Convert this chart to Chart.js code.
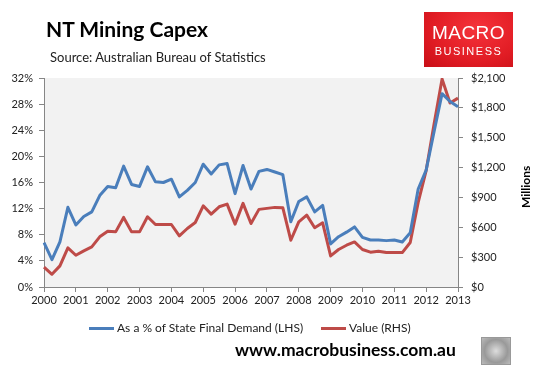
<!DOCTYPE html>
<html>
<head>
<meta charset="utf-8">
<script src="https://cdn.jsdelivr.net/npm/chart.js@4"></script>
<style>
  body { margin: 0; background: #fff; font-family: Lato, "Open Sans", sans-serif; }
  #wrap { position: relative; width: 546px; height: 370px; overflow: hidden; }
  #chart { position: absolute; left: 0; top: 0; }
  .abs { position: absolute; white-space: nowrap; }
  #title { left: 46px; top: 16px; font-size: 21px; font-weight: bold; color: #000; }
  #source { left: 50px; top: 49px; font-size: 13px; color: #222; }
  #logo { left: 424px; top: 12px; width: 89px; height: 55px;
    background: radial-gradient(ellipse at 60% 30%, #f5333a 0%, #e11c24 60%, #c80f17 100%); color: #fff;
    text-align: center; font-family: "Liberation Sans", Arial, sans-serif; }
  #logo .m { position: absolute; left: 0; right: 0; top: 10px; font-size: 19px; letter-spacing: 0.5px; }
  #logo .b { position: absolute; left: 0; right: 0; top: 33px; font-size: 11px; letter-spacing: 1.5px; }
  #millions { left: 518px; top: 208px; font-size: 12px; font-weight: bold; transform: rotate(-90deg); transform-origin: left top; }
  .leg { top: 320px; font-size: 12px; color: #222; }
  .sw { position: absolute; height: 3px; width: 25px; top: 327px; }
  #url { left: 235px; top: 339px; font-size: 17.5px; font-weight: bold; color: #000; }
  #wolf { left: 481px; top: 337px; width: 28px; height: 26px; border: 1px solid #999;
    background: radial-gradient(circle at 50% 50%, #ddd 0%, #999 60%, #bbb 100%); }
</style>
</head>
<body>
<div id="wrap">
  <canvas id="chart" width="546" height="370"></canvas>
  <div class="abs" id="title">NT Mining Capex</div>
  <div class="abs" id="source">Source: Australian Bureau of Statistics</div>
  <div class="abs" id="logo"><div class="m">MACRO</div><div class="b">BUSINESS</div></div>
  <div class="abs" id="millions">Millions</div>
  <div class="sw" style="left:89px;background:#4a7ebb"></div>
  <div class="abs leg" style="left:117px">As a % of State Final Demand (LHS)</div>
  <div class="sw" style="left:321px;background:#be4b48"></div>
  <div class="abs leg" style="left:349px">Value (RHS)</div>
  <div class="abs" id="url">www.macrobusiness.com.au</div>
  <div class="abs" id="wolf"></div>
</div>
<script>
const years = ["2000","2001","2002","2003","2004","2005","2006","2007","2008","2009","2010","2011","2012","2013"];

// quarterly, 2000 Q1 .. 2013 Q1
const pctSFD = [
  6.8, 4.2, 6.9, 12.2,
  9.5, 10.8, 11.5, 14.0,
  15.4, 15.2, 18.5, 15.7,
  15.4, 18.4, 16.1, 16.0,
  16.5, 13.8, 14.8, 16.0,
  18.8, 17.3, 18.7, 18.9,
  14.3, 18.6, 15.0, 17.7,
  18.0, 17.6, 17.2, 10.0,
  13.1, 13.8, 11.5, 12.5,
  6.6, 7.7, 8.4, 9.2,
  7.6, 7.2, 7.2, 7.1,
  7.2, 6.9, 8.3, 15.0,
  17.9, 23.8, 29.6, 28.4,
  27.6
];
const valueM = [
  200, 128, 212, 393,
  319, 363, 403, 504,
  561, 554, 699, 554,
  554, 706, 628, 628,
  628, 514, 588, 648,
  816, 732, 806, 833,
  632, 840, 638, 780,
  790, 800, 796, 470,
  655, 722, 595, 645,
  312, 377, 420, 453,
  377, 350, 360, 346,
  346, 346, 447, 850,
  1170, 1640, 2090, 1848,
  1898
];

const labels = pctSFD.map((v, i) => years[Math.floor(i / 4)] + " Q" + (i % 4 + 1));
const axisGrey = "#868686";
const tickFont = { family: "Lato, 'Open Sans', sans-serif", size: 11 };

new Chart(document.getElementById("chart"), {
  type: "line",
  data: {
    labels: labels,
    datasets: [
      { label: "As a % of State Final Demand (LHS)", data: pctSFD, yAxisID: "y",
        borderColor: "#4a7ebb", borderWidth: 3, pointRadius: 0, tension: 0, borderJoinStyle: "round" },
      { label: "Value (RHS)", data: valueM, yAxisID: "y1",
        borderColor: "#be4b48", borderWidth: 3, pointRadius: 0, tension: 0, borderJoinStyle: "round" }
    ]
  },
  options: {
    responsive: false,
    animation: false,
    layout: { padding: { top: 78, left: 0, right: 0, bottom: 0 } },
    plugins: { legend: { display: false }, tooltip: { enabled: false } },
    scales: {
      x: {
        offset: false,
        afterFit: s => { s.height = 83; },
        border: { color: axisGrey, width: 1 },
        grid: { drawOnChartArea: false, tickLength: 5,
          color: c => (c.index % 4 === 0 ? axisGrey : "rgba(0,0,0,0)") },
        ticks: { autoSkip: false, maxRotation: 0, padding: 2, color: "#222", font: tickFont,
          callback: (v, i) => (i % 4 === 0 ? years[i / 4] : "") }
      },
      y: {
        position: "left", min: 0, max: 32,
        afterFit: s => { s.width = 44; },
        border: { color: axisGrey, width: 1 },
        grid: { drawOnChartArea: false, tickLength: 5, color: axisGrey },
        ticks: { stepSize: 4, padding: 6, color: "#222", font: tickFont, callback: v => v + "%" }
      },
      y1: {
        position: "right", min: 0, max: 2100,
        afterFit: s => { s.width = 88; },
        border: { color: axisGrey, width: 1 },
        grid: { drawOnChartArea: false, tickLength: 5, color: axisGrey },
        ticks: { stepSize: 300, padding: 8, color: "#222", font: tickFont,
          callback: v => "$" + v.toLocaleString("en-US") }
      }
    }
  },
  plugins: [{
    id: "plotBg",
    beforeDraw(chart) {
      const a = chart.chartArea, ctx = chart.ctx;
      ctx.save();
      ctx.fillStyle = "#f2f2f2";
      ctx.fillRect(a.left, a.top, a.right - a.left, a.bottom - a.top);
      ctx.restore();
    }
  }]
});
</script>
</body>
</html>
